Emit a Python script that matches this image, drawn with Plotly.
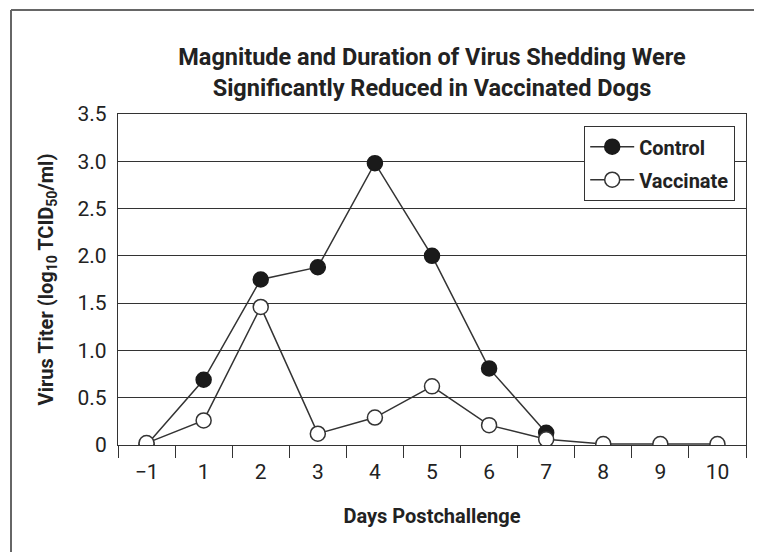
import plotly.graph_objects as go

days = ["\u22121", "1", "2", "3", "4", "5", "6", "7", "8", "9", "10"]
control = [0.0, 0.69, 1.75, 1.88, 2.98, 2.0, 0.81, 0.13, None, None, None]
vaccinate = [0.02, 0.26, 1.46, 0.12, 0.29, 0.62, 0.21, 0.06, 0.01, 0.01, 0.01]
y_ticks = [0, 0.5, 1.0, 1.5, 2.0, 2.5, 3.0, 3.5]
y_ticktext = ["0", "0.5", "1.0", "1.5", "2.0", "2.5", "3.0", "3.5"]

FONT = "Roboto, Liberation Sans, sans-serif"
INK = "#222222"

fig = go.Figure()
fig.add_trace(go.Scatter(
    x=days, y=control, name="Control", mode="lines+markers", legendgroup="c",
    line=dict(color="#333333", width=1.5),
    marker=dict(symbol="circle", size=15, color="#1a1a1a",
                line=dict(color="#1a1a1a", width=1.5)),
))
fig.add_trace(go.Scatter(
    x=days, y=vaccinate, name="Vaccinate", mode="lines+markers", legendgroup="v",
    line=dict(color="#333333", width=1.5),
    marker=dict(symbol="circle", size=15, color="white",
                line=dict(color="#333333", width=1.5)),
))

# page has an 8px body margin; figure coordinates = page - 8
OFF = 8
W, H = 762 - OFF, 552 - OFF
L, T = 118 - OFF, 114 - OFF
R = 16
B = H - (445 - OFF)
pw, ph = W - L - R, H - T - B

def px(x):
    return (x - OFF - L) / pw

def py(y):
    return (H - B - (y - OFF)) / ph

fig.update_layout(
    width=W, height=H,
    margin=dict(l=L, r=R, t=T, b=B),
    paper_bgcolor="white", plot_bgcolor="white",
    font=dict(family=FONT, color=INK),
    title=dict(
        text="Magnitude and Duration of Virus Shedding Were<br>Significantly Reduced in Vaccinated Dogs",
        x=0.5, xref="paper", xanchor="center",
        y=1 - 57 / H, yref="container", yanchor="top",
        font=dict(family=FONT, size=23.5, color=INK, weight="bold"),
    ),
    xaxis=dict(
        type="category", range=[-0.5, 10.5],
        tickson="boundaries", ticks="outside", ticklen=12, tickwidth=1.2,
        tickcolor="#333333", ticklabelstandoff=8,
        showgrid=False, showline=True, linecolor="#333333", linewidth=1.2,
        mirror=True, zeroline=False,
        tickfont=dict(family=FONT, size=21, color=INK),
        title=dict(text="Days Postchallenge",
                   font=dict(family=FONT, size=20, color=INK, weight="bold"),
                   standoff=25),
    ),
    yaxis=dict(
        range=[0, 3.5], tickvals=y_ticks, ticktext=y_ticktext,
        ticks="", showgrid=True, gridcolor="#333333", gridwidth=1.2,
        showline=True, linecolor="#333333", linewidth=1.2, mirror=True,
        zeroline=False, ticklabelstandoff=6,
        tickfont=dict(family=FONT, size=21, color=INK),
        title=dict(text="Virus Titer (log<sub>10</sub> TCID<sub>50</sub>/ml)",
                   font=dict(family=FONT, size=20, color=INK, weight="bold"),
                   standoff=18),
    ),
    legend=dict(
        x=px(735), y=py(126), xanchor="right", yanchor="top",
        bgcolor="white", bordercolor="#333333", borderwidth=1.2,
        font=dict(family=FONT, size=20, color=INK, weight="bold"),
        tracegroupgap=4, itemwidth=44,
    ),
    showlegend=True,
)

fig.add_shape(type="line", xref="paper", yref="paper",
              x0=px(11), x1=px(11), y0=py(560), y1=py(10),
              line=dict(color="#666666", width=2))
fig.add_shape(type="line", xref="paper", yref="paper",
              x0=px(11), x1=px(770), y0=py(10), y1=py(10),
              line=dict(color="#666666", width=2))

fig.write_html("out.html")
